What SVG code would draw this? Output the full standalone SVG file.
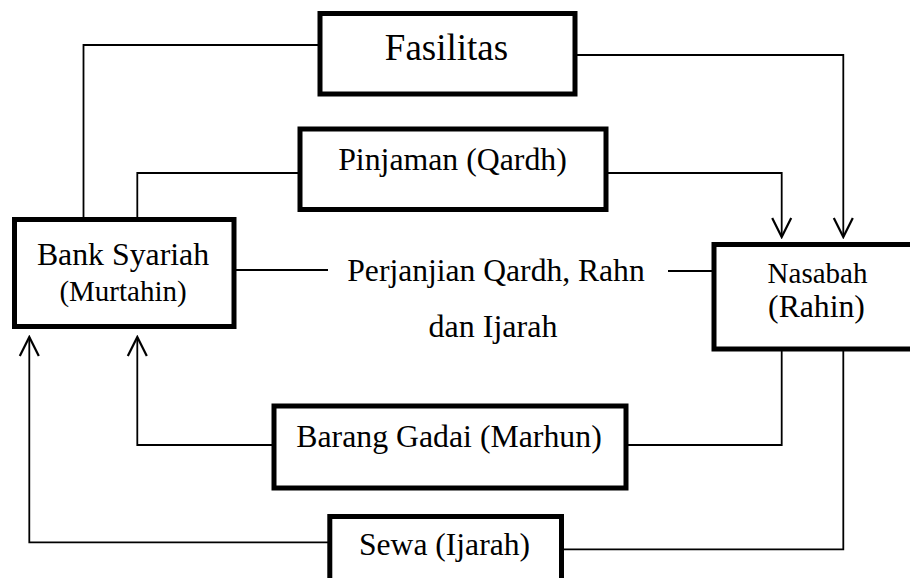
<svg xmlns="http://www.w3.org/2000/svg" width="910" height="578" viewBox="0 0 910 578">
<style>
.box{fill:#fff;stroke:#000;stroke-width:5}
.ln{fill:none;stroke:#000;stroke-width:1.8}
.t{font-family:"Liberation Serif","Times New Roman",serif;fill:#000;text-anchor:middle}
</style>
<defs>
<marker id="arr" viewBox="-22 -12 24 24" markerWidth="24" markerHeight="24" refX="0" refY="0" orient="auto" markerUnits="userSpaceOnUse">
<path d="M-19,-9.5 L0,0 L-19,9.5" fill="none" stroke="#000" stroke-width="2.2"/>
</marker>
</defs>
<rect width="910" height="578" fill="#fff"/>
<g id="connectors">
<path class="ln" d="M320,45 H83.5 V217"/>
<path class="ln" d="M575,55 H843.3 V237" marker-end="url(#arr)"/>
<path class="ln" d="M300,173 H137.3 V217"/>
<path class="ln" d="M606,173 H781.7 V237" marker-end="url(#arr)"/>
<path class="ln" d="M236,270 H328"/>
<path class="ln" d="M668,271 H712"/>
<path class="ln" d="M274,445 H137.3 V337" marker-end="url(#arr)"/>
<path class="ln" d="M626,445 H781.7 V351"/>
<path class="ln" d="M330,542.3 H29.3 V337" marker-end="url(#arr)"/>
<path class="ln" d="M561.5,549.3 H843.3 V351"/>
</g>
<g id="fasilitas">
<rect class="box" x="320" y="13.5" width="255" height="80.5"/>
<text class="t" x="446.5" y="60" font-size="37">Fasilitas</text>
</g>
<g id="pinjaman">
<rect class="box" x="300" y="129" width="306" height="80.5"/>
<text class="t" x="452.5" y="170" font-size="31.8">Pinjaman (Qardh)</text>
</g>
<g id="bank">
<rect class="box" x="14.5" y="219.5" width="219.5" height="107"/>
<text class="t" x="123" y="265" font-size="31.8">Bank Syariah</text>
<text class="t" x="123" y="301" font-size="29">(Murtahin)</text>
</g>
<g id="perjanjian">
<text class="t" x="496" y="281" font-size="31.6">Perjanjian Qardh, Rahn</text>
<text class="t" x="493" y="337" font-size="32">dan Ijarah</text>
</g>
<g id="nasabah">
<rect class="box" x="714" y="244.5" width="210" height="104.5"/>
<text class="t" x="817.5" y="283" font-size="29">Nasabah</text>
<text class="t" x="816.5" y="317" font-size="31.7">(Rahin)</text>
</g>
<g id="barang">
<rect class="box" x="274" y="406" width="352" height="82"/>
<text class="t" x="449" y="447" font-size="31.8">Barang Gadai (Marhun)</text>
</g>
<g id="sewa">
<rect class="box" x="329.8" y="516.5" width="231.7" height="80"/>
<text class="t" x="444.5" y="555" font-size="31.6">Sewa (Ijarah)</text>
</g>
</svg>
